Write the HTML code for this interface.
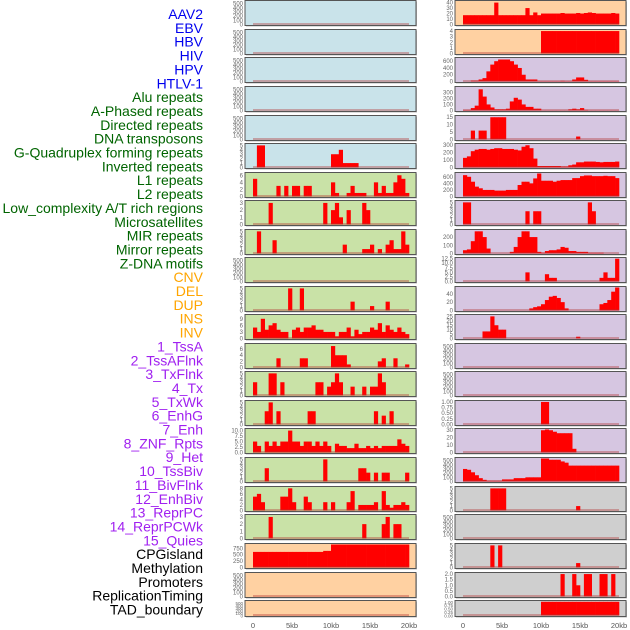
<!DOCTYPE html>
<html><head><meta charset="utf-8"><style>
body{margin:0;background:#fff;width:630px;height:630px;overflow:hidden;font-family:"Liberation Sans",sans-serif}
svg{display:block}
</style></head><body>
<svg id="c" width="630" height="630"></svg>
<script>
const labels=["AAV2","EBV","HBV","HIV","HPV","HTLV-1","Alu repeats","A-Phased repeats","Directed repeats","DNA transposons","G-Quadruplex forming repeats","Inverted repeats","L1 repeats","L2 repeats","Low_complexity A/T rich regions","Microsatellites","MIR repeats","Mirror repeats","Z-DNA motifs","CNV","DEL","DUP","INS","INV","1_TssA","2_TssAFlnk","3_TxFlnk","4_Tx","5_TxWk","6_EnhG","7_Enh","8_ZNF_Rpts","9_Het","10_TssBiv","11_BivFlnk","12_EnhBiv","13_ReprPC","14_ReprPCWk","15_Quies","CPGisland","Methylation","Promoters","ReplicationTiming","TAD_boundary"];
const xTickLabels=["0","5kb","10kb","15kb","20kb"];
const xTickValues=[0,5,10,15,20];
const E=[0,0,0,0,0,0,0,0,0,0,0,0,0,0,0,0,0,0,0,0,0,0,0,0,0,0,0,0,0,0,0,0,0,0,0,0,0,0,0,0];
const leftValues=[
E,E,E,E,E,
[0,5,5,0,0,0,0,0,0,0,0,0,0,0,0,0,0,0,0,0,3,3,4,1,1,1,1,0,0,0,0,0,0,0,0,0,0,0,0,0],
[5,0,0,0,0,0,3,0,3,0,3,3,0,3,3,0,0,0,0,0,4,1,0,0,1,3,1,1,1,0,0,4,1,3,1,1,4,6,5,1],
[0,0,0,0,3,0,0,0,0,0,0,0,0,0,0,0,0,0,3,0,2,3,1,0,2,0,0,0,3,2,0,0,0,0,0,0,0,0,0,0],
[0,5,0,0,0,3,0,0,0,0,0,0,0,0,0,0,0,0,0,0,0,0,0,2,0,0,0,0,1,1,2,0,1,0,2,3,1,1,5,2],
E,
[0,0,0,0,0,0,0,0,0,5,0,0,5,0,0,0,0,0,0,0,0,0,0,0,0,2,0,0,0,0,1,0,0,0,2,0,0,0,0,0],
[5,3,9,4,6,7,4,3,3,0,4,5,3,5,5,6,4,4,3,3,3,1,3,3,5,1,4,2,3,3,5,4,7,3,6,4,3,5,3,2],
[0,0,0,0,0,0,3,0,0,0,0,0,3,3,0,0,0,0,0,0,7,4,4,4,1,0,0,0,0,0,0,0,2,3,0,0,3,0,0,1],
[3,0,0,0,5,5,0,3,0,0,0,0,0,0,0,0,3,3,0,2,3,5,3,0,0,2,0,0,2,0,2,2,5,3,0,0,0,0,0,0],
[0,0,0,3,5,0,3,0,0,0,0,0,0,0,3,3,0,0,0,0,0,0,0,0,0,0,0,0,0,0,0,3,0,2,0,3,0,0,0,0],
[5,3,0,5,3,5,3,5,5,10,5,5,3,5,5,3,5,3,5,3,0,4,3,3,2,2,4,2,2,3,2,3,2,3,3,3,3,6,4,3],
[0,0,0,3,0,0,0,0,0,0,0,0,0,0,0,0,0,0,5,0,0,0,0,0,0,0,0,3,3,2,0,2,0,2,2,0,0,0,0,2],
[5,6,3,0,0,0,0,5,5,8,3,0,0,5,3,0,0,0,3,0,3,0,0,0,3,7,0,2,2,2,2,3,0,7,2,1,2,2,3,2],
[0,0,0,0,3,0,0,0,0,0,0,0,0,0,0,0,0,0,0,0,0,0,0,0,0,0,0,0,2,0,0,0,0,2,3,0,2,2,0,0],
[610,610,610,610,610,610,610,610,610,610,610,610,610,610,610,610,610,610,650,650,900,900,900,900,900,900,900,900,900,900,900,900,900,900,900,900,900,900,900,900],
E,E];
const leftMax=[550,550,550,550,550,5.2,6.5,3.2,5.2,550,5.2,10.5,7.5,5.2,5.2,10.5,5.2,8.3,3.2,900,550,550];
const leftTicks=[[0,100,200,300,400,500],[0,100,200,300,400,500],[0,100,200,300,400,500],[0,100,200,300,400,500],[0,100,200,300,400,500],[0,1,2,3,4,5],[0,2,4,6],[0,1,2,3],[0,1,2,3,4,5],[0,100,200,300,400,500],[0,1,2,3,4,5],[0,3,6,9],[0,2,4,6],[0,1,2,3,4,5],[0,1,2,3,4,5],[0,2.5,5,7.5,10],[0,1,2,3,4,5],[0,2,4,6,8],[0,1,2,3],[0,250,500,750],[0,100,200,300,400,500],[0,100,200,300,400,500]];
const leftBg=["#c9e3ea","#c9e3ea","#c9e3ea","#c9e3ea","#c9e3ea","#c9e3ea","#c9e2a7","#c9e2a7","#c9e2a7","#c9e2a7","#c9e2a7","#c9e2a7","#c9e2a7","#c9e2a7","#c9e2a7","#c9e2a7","#c9e2a7","#c9e2a7","#c9e2a7","#ffd1a2","#ffd1a2","#ffd1a2"];
const rightValues=[
[17,17,17,17,17,17,17,17,40,17,17,17,17,17,17,17,30,17,22,17,20,20,20,20,20,21,20,20,20,21,20,21,22,21,20,20,20,20,21,20],
[0,0,0,0,0,0,0,0,0,0,0,0,0,0,0,0,0,0,0,0,4,4,4,4,4,4,4,4,4,4,4,4,4,4,4,4,4,4,4,4],
[0,0,30,30,60,100,300,500,600,650,650,650,600,500,400,200,60,60,60,10,10,10,10,10,10,20,10,10,60,120,120,50,10,10,10,10,10,10,10,10],
[10,10,40,80,350,230,100,50,20,20,20,30,150,210,180,100,60,60,30,30,3,3,3,3,3,3,3,20,30,20,40,10,3,3,3,3,3,3,3,3],
[0,0,6,0,6,6,0,15,15,15,15,0,0,0,0,0,0,0,0,0,0,0,0,0,0,0,0,0,0,2,0,0,0,0,0,0,0,0,0,0],
[130,150,220,240,250,250,240,250,260,260,250,250,250,240,230,280,300,260,120,20,20,20,20,20,20,15,15,30,40,70,70,80,80,80,75,70,75,75,75,80],
[650,600,450,300,250,200,200,200,180,180,180,200,200,200,350,450,450,400,550,700,480,480,480,450,480,500,500,500,560,560,620,640,640,620,620,620,630,620,620,560],
[5,5,0,0,0,0,0,0,0,0,0,0,0,0,0,0,3,0,3,3,0,0,0,0,0,0,0,0,0,0,0,0,5,3,0,0,0,0,0,0],
[40,50,150,270,270,200,60,0,0,0,0,0,20,80,200,270,270,200,200,20,10,30,40,40,50,80,70,30,30,20,20,20,10,10,10,10,0,0,0,0],
[0,0,0,0,0,0,0,0,0,0,0,0,0,0,0,0,5,0,0,0,0,4,2,2,0,0,0,0,0,0,0,0,0,0,0,2,5,2,2,12.5],
[0,0,0,0,0,0,0,0,0,0,0,0,0,0,0,0,0,5,8,10,15,25,33,35,30,20,5,0,0,0,0,0,0,0,0,15,18,25,45,55],
[0,0,0,0,0,8,8,25,15,10,10,0,0,0,0,0,0,0,0,0,0,0,0,0,0,0,0,0,0,2,0,0,0,0,0,0,0,0,0,0],
E,E,
[0,0,0,0,0,0,0,0,0,0,0,0,0,0,0,0,0,0,0,0,1,1,0,0,0,0,0,0,0,0,0,0,0,0,0,0,0,0,0,0],
[0,0,0,0,0,0,0,0,0,0,0,0,0,0,0,0,0,0,0,0,30,31,30,28,26,26,26,26,5,0,0,0,0,0,0,0,0,0,0,0],
[300,280,220,150,80,40,20,20,20,20,50,50,50,80,80,80,100,100,100,100,550,550,520,520,520,480,450,380,380,380,380,380,380,380,380,380,380,380,380,380],
[0,0,0,0,0,0,0,5,5,5,5,0,0,0,0,0,0,0,0,0,0,0,0,0,0,0,0,0,0,1,0,0,0,0,0,0,0,0,0,0],
E,
[0,0,0,0,0,0,0,5,0,5,0,0,0,0,0,0,0,0,0,0,0,0,0,0,0,0,0,0,0,1,0,0,0,0,0,0,0,0,0,0],
[0,0,0,0,0,0,0,0,0,0,0,0,0,0,0,0,0,0,0,0,0,0,0,0,0,2,0,0,2,1,0,2,2,0,0,2,2,0,2,0],
[0,0,0,0,0,0,0,0,0,0,0,0,0,0,0,0,0,0,0,0,1,1,1,1,1,1,1,1,1,1,1,1,1,1,1,1,1,1,1,1]];
const rightMax=[42,4.1,680,380,15.5,310,700,5.2,280,12.6,55,26,550,550,1.02,31,550,5.2,550,5.2,2.05,1.02];
const rightTicks=[[0,10,20,30,40],[0,1,2,3,4],[0,200,400,600],[0,100,200,300],[0,5,10,15],[0,100,200,300],[0,200,400,600],[0,1,2,3,4,5],[0,100,200],[0,2.5,5,7.5,10,12.5],[0,20,40],[0,5,10,15,20,25],[0,100,200,300,400,500],[0,100,200,300,400,500],[0,0.25,0.5,0.75,1],[0,10,20,30],[0,100,200,300,400,500],[0,1,2,3,4,5],[0,100,200,300,400,500],[0,1,2,3,4,5],[0,0.5,1,1.5,2],[0,0.25,0.5,0.75,1]];
const rightBg=["#ffd1a2","#ffd1a2","#d6c6e1","#d6c6e1","#d6c6e1","#d6c6e1","#d6c6e1","#d6c6e1","#d6c6e1","#d6c6e1","#d6c6e1","#d6c6e1","#d6c6e1","#d6c6e1","#d6c6e1","#d6c6e1","#d6c6e1","#cfcfcf","#cfcfcf","#cfcfcf","#cfcfcf","#cfcfcf"];
const rowTops=[0,29,57,86,115,143,172,200,229,257,286,314,343,371,400,428,457,486,514,543,572,600];

const NS="http://www.w3.org/2000/svg";
const svg=document.getElementById('c');
function mk(t,a){const e=document.createElementNS(NS,t);for(const k in a)e.setAttribute(k,a[k]);return e;}
function decimals(ticks){let d=0;ticks.forEach(v=>{const s=String(v);const p=s.indexOf('.');if(p>=0)d=Math.max(d,s.length-p-1);});return d;}

for(let i=0;i<labels.length;i++){
  const c=i<6?"#0000ee":i<19?"#006400":i<24?"#ffa500":i<39?"#a020f0":"#000";
  const t=mk('text',{x:203,y:19+i*13.85,'text-anchor':'end','font-size':14,fill:c});
  t.textContent=labels[i];
  
  
  svg.appendChild(t);
}
function panel(px,top,h,vals,ymax,ticks,bg,name){
  const g=mk('g',{});
  
  
  g.appendChild(mk('rect',{x:px+1,y:top+1,width:171,height:h,fill:'#bbb'}));
  g.appendChild(mk('rect',{x:px,y:top,width:171,height:h,fill:bg,stroke:'#555','stroke-width':1}));
  const x0=px+8,x1=px+164;
  const base=top+h-1, ph=h-2;
  const xs=kb=>x0+(x1-x0)*kb/20;
  const ys=v=>base-Math.min(v,ymax)/ymax*ph;
  vals.forEach((v,i)=>{
    if(v<=0)return;
    const r=mk('rect',{x:xs(i*0.5),y:ys(v),width:xs(0.5)-xs(0)+0.3,height:base-ys(v),fill:'#ff0000'});
    
    
    g.appendChild(r);
  });
  g.appendChild(mk('line',{x1:x0,x2:x1,y1:base-0.5,y2:base-0.5,stroke:'#b03030','stroke-opacity':0.6,'stroke-width':1.2}));
  const d=decimals(ticks);
  ticks.forEach(tv=>{
    const t=mk('text',{x:px-2,y:ys(tv)+2,'text-anchor':'end','font-size':h<20?4.5:6,fill:'#666'});
    t.textContent=tv.toFixed(d);
    
    
    g.appendChild(t);
  });
  svg.appendChild(g);
}
for(let r=0;r<22;r++){
  const h=r===21?16:25;
  panel(245,rowTops[r]+0.5,h,leftValues[r],leftMax[r],leftTicks[r],leftBg[r],'left-panel-'+r);
  panel(455,rowTops[r]+0.5,h,rightValues[r],rightMax[r],rightTicks[r],rightBg[r],'right-panel-'+r);
}
[253,463].forEach(x0=>{
  xTickValues.forEach((v,i)=>{
    const t=mk('text',{x:x0+156*v/20,y:628,'text-anchor':'middle','font-size':7.5,fill:'#555'});
    t.textContent=xTickLabels[i];
    
    
    svg.appendChild(t);
  });
});
</script>
</body></html>
